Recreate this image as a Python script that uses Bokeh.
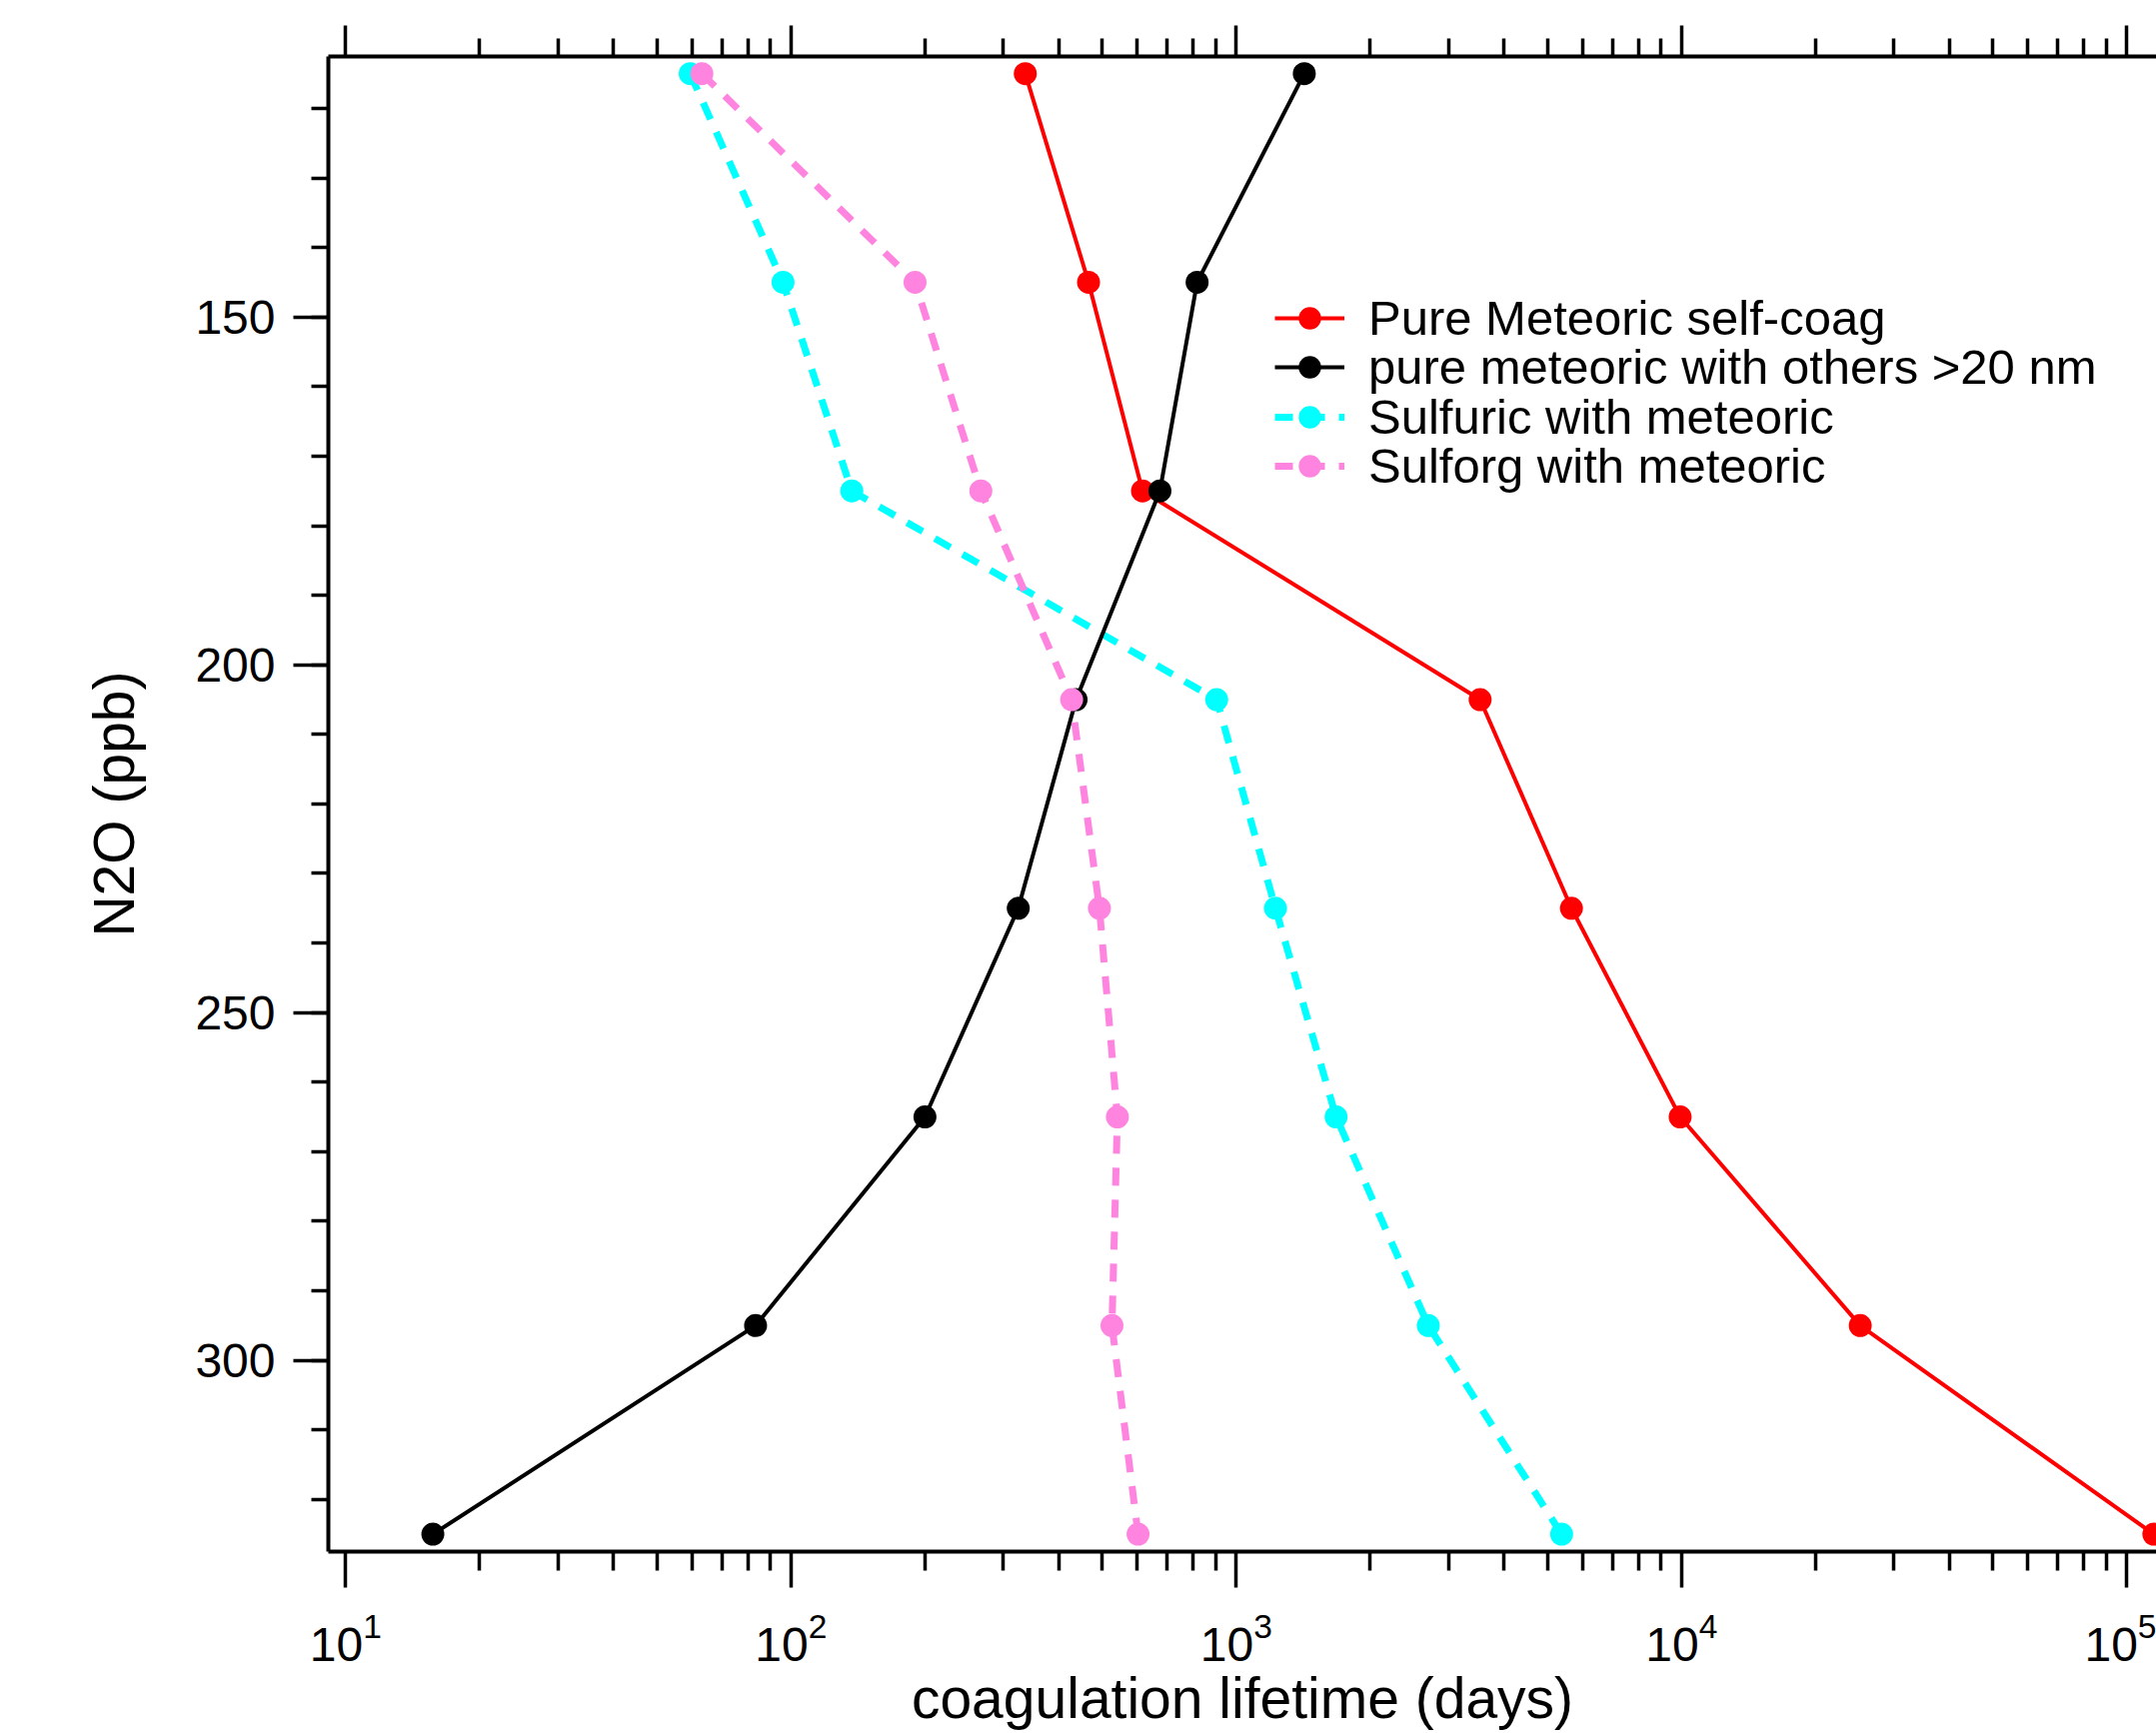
from bokeh.plotting import figure
from bokeh.models import (Range1d, LogAxis, FixedTicker, Legend, LegendItem,
                          LogTickFormatter, CustomJSTickFormatter)
from bokeh.embed import file_html
from bokeh.resources import INLINE

# ---- data ----
n2o = [115, 145, 175, 205, 235, 265, 295, 325]
pure_self_coag = [336, 466, 616, 3530, 5660, 9930, 25200, 115000]
pure_with_others = [1422, 817, 674, 437, 324, 200, 83.3, 15.7]
sulfuric_with_met = [59.4, 96, 137, 904, 1225, 1676, 2700, 5380]
sulforg_with_met = [63.1, 190, 267, 427, 493, 541, 526, 602]

labels = ["Pure Meteoric self-coag", "pure meteoric with others >20 nm",
          "Sulfuric with meteoric", "Sulforg with meteoric"]

x_major = [10, 100, 1000, 10000, 100000]
x_minor = [m * 10 ** e for e in range(0, 6) for m in range(2, 10)]
y_major = [150, 200, 250, 300]
y_minor = list(range(120, 330, 10))

FONT = "Liberation Sans"

p = figure(width=2157, height=1734, x_axis_type="log",
           x_range=Range1d(9.146, 116600), y_range=Range1d(327.5, 112.53),
           output_backend="svg", toolbar_location=None,
           min_border_left=328, min_border_top=56, min_border_bottom=182,
           min_border_right=0)
p.outline_line_color = None
p.grid.visible = False
p.background_fill_color = "white"
p.border_fill_color = "white"

RED = "#FF0000"
BLACK = "#000000"
CYAN = "#00FFFF"
PINK = "#FF84E0"

r1l = p.line(pure_self_coag, n2o, line_color=RED, line_width=4)
r1c = p.scatter(pure_self_coag, n2o, size=23, fill_color=RED, line_color=None)
r3l = p.line(sulfuric_with_met, n2o, line_color=CYAN, line_width=7, line_dash="18 14")
r3c = p.scatter(sulfuric_with_met, n2o, size=23, fill_color=CYAN, line_color=None)
r2l = p.line(pure_with_others, n2o, line_color=BLACK, line_width=4)
r2c = p.scatter(pure_with_others, n2o, size=23, fill_color=BLACK, line_color=None)
r4l = p.line(sulforg_with_met, n2o, line_color=PINK, line_width=7, line_dash="18 14")
r4c = p.scatter(sulforg_with_met, n2o, size=23, fill_color=PINK, line_color=None)

xt = FixedTicker(ticks=x_major, minor_ticks=x_minor)
yt = FixedTicker(ticks=y_major, minor_ticks=y_minor)

xa = p.xaxis[0]
xa.ticker = xt
xa.formatter = LogTickFormatter()
xa.axis_label = "coagulation lifetime (days)"
xa.major_tick_out = 36
xa.minor_tick_out = 19
xa.major_label_standoff = 24
xa.axis_label_standoff = 2

ya = p.yaxis[0]
ya.ticker = yt
ya.axis_label = "N2O (ppb)"
ya.major_tick_out = 35
ya.minor_tick_out = 17
ya.major_label_standoff = 18
ya.axis_label_standoff = 46

top = LogAxis(ticker=xt, formatter=CustomJSTickFormatter(code="return ' '"),
              major_label_text_font_size="8px", major_label_standoff=0,
              major_tick_out=31, minor_tick_out=18)
p.add_layout(top, "above")

for ax in [xa, ya, top]:
    ax.axis_line_width = 4
    ax.axis_line_color = "black"
    ax.major_tick_line_width = 3.5
    ax.minor_tick_line_width = 3.5
    ax.major_tick_line_color = "black"
    ax.minor_tick_line_color = "black"
    ax.major_tick_in = 0
    ax.minor_tick_in = 0
    ax.major_label_text_font = FONT
    ax.major_label_text_color = "black"
    ax.axis_label_text_font = FONT
    ax.axis_label_text_font_size = "57px"
    ax.axis_label_text_font_style = "normal"
    ax.axis_label_text_color = "black"
xa.major_label_text_font_size = "48px"
ya.major_label_text_font_size = "48px"

# one legend box per entry so the row pitch can match the reference
row_renderers = [[r1l, r1c], [r2l, r2c], [r3l, r3c], [r4l, r4c]]
row_y = [1206, 1157, 1107, 1058]
for lab, rends, ly in zip(labels, row_renderers, row_y):
    lg = Legend(items=[LegendItem(label=lab, renderers=rends)], location=(947, ly))
    lg.label_text_font = FONT
    lg.label_text_font_size = "49px"
    lg.label_text_color = "black"
    lg.glyph_width = 70
    lg.glyph_height = 56
    lg.label_standoff = 24
    lg.spacing = 0
    lg.padding = 0
    lg.margin = 0
    lg.border_line_color = None
    lg.background_fill_alpha = 0
    p.add_layout(lg, "center")

open("out.html", "w").write(file_html(p, INLINE))
